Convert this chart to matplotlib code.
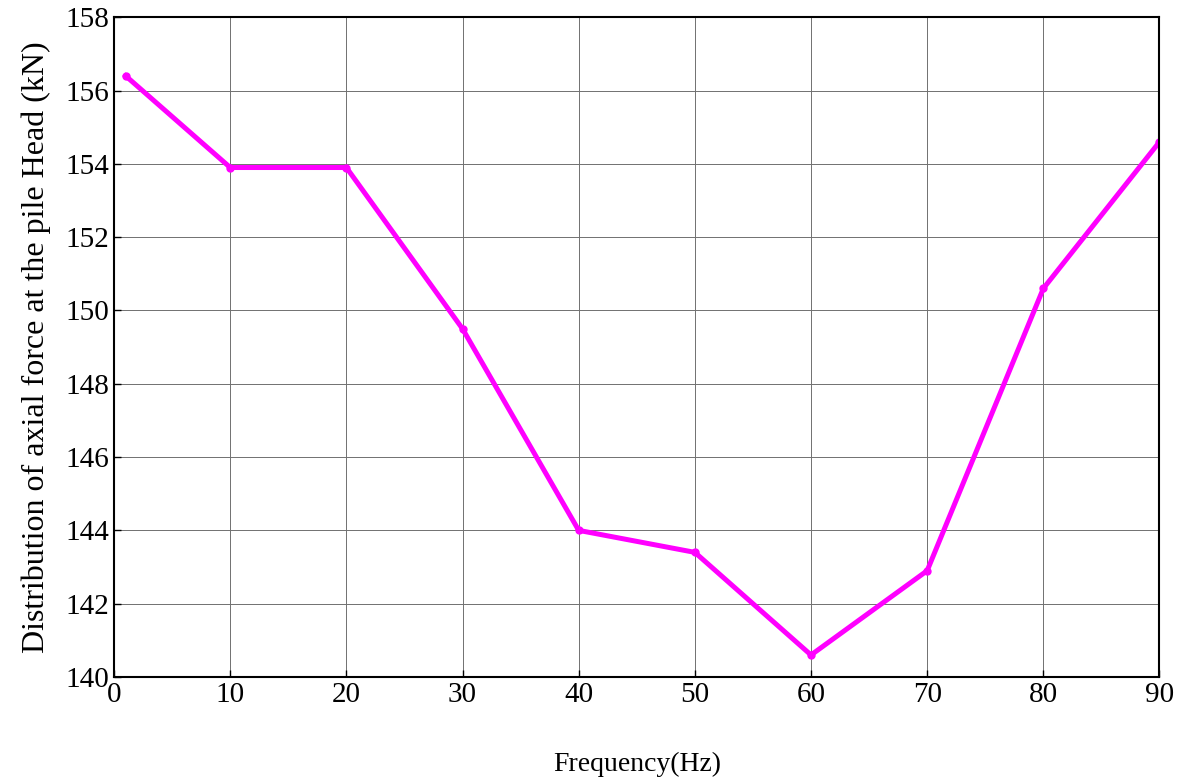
import matplotlib
matplotlib.use("Agg")
import matplotlib.pyplot as plt

freq = [1, 10, 20, 30, 40, 50, 60, 70, 80, 90]
force = [156.4, 153.9, 153.9, 149.5, 144.0, 143.4, 140.6, 142.9, 150.6, 154.6]
x_ticks = [0, 10, 20, 30, 40, 50, 60, 70, 80, 90]
y_ticks = [140, 142, 144, 146, 148, 150, 152, 154, 156, 158]

plt.rcParams['font.family'] = ['Liberation Serif', 'DejaVu Serif']

fig = plt.figure(figsize=(11.88, 7.84), dpi=100)
ax = fig.add_axes([0.096, 0.1365, 0.88, 0.8415])

ax.plot(freq, force, color='#ff00ff', linewidth=3.6, marker='o', markersize=5)

ax.set_xlim(0, 90)
ax.set_ylim(140, 158)
ax.set_xticks(x_ticks)
ax.set_yticks(y_ticks)
ax.grid(True, color='#707070', linewidth=0.7)
ax.tick_params(direction='in', labelsize=21, length=5, width=1)
for s in ax.spines.values():
    s.set_linewidth(1.5)

ax.set_xlabel('Frequency(Hz)', fontsize=20, labelpad=32)
ax.set_ylabel('Distribution of axial force at the pile Head (kN)', fontsize=23, labelpad=10)

fig.savefig('out.png', dpi=100)
